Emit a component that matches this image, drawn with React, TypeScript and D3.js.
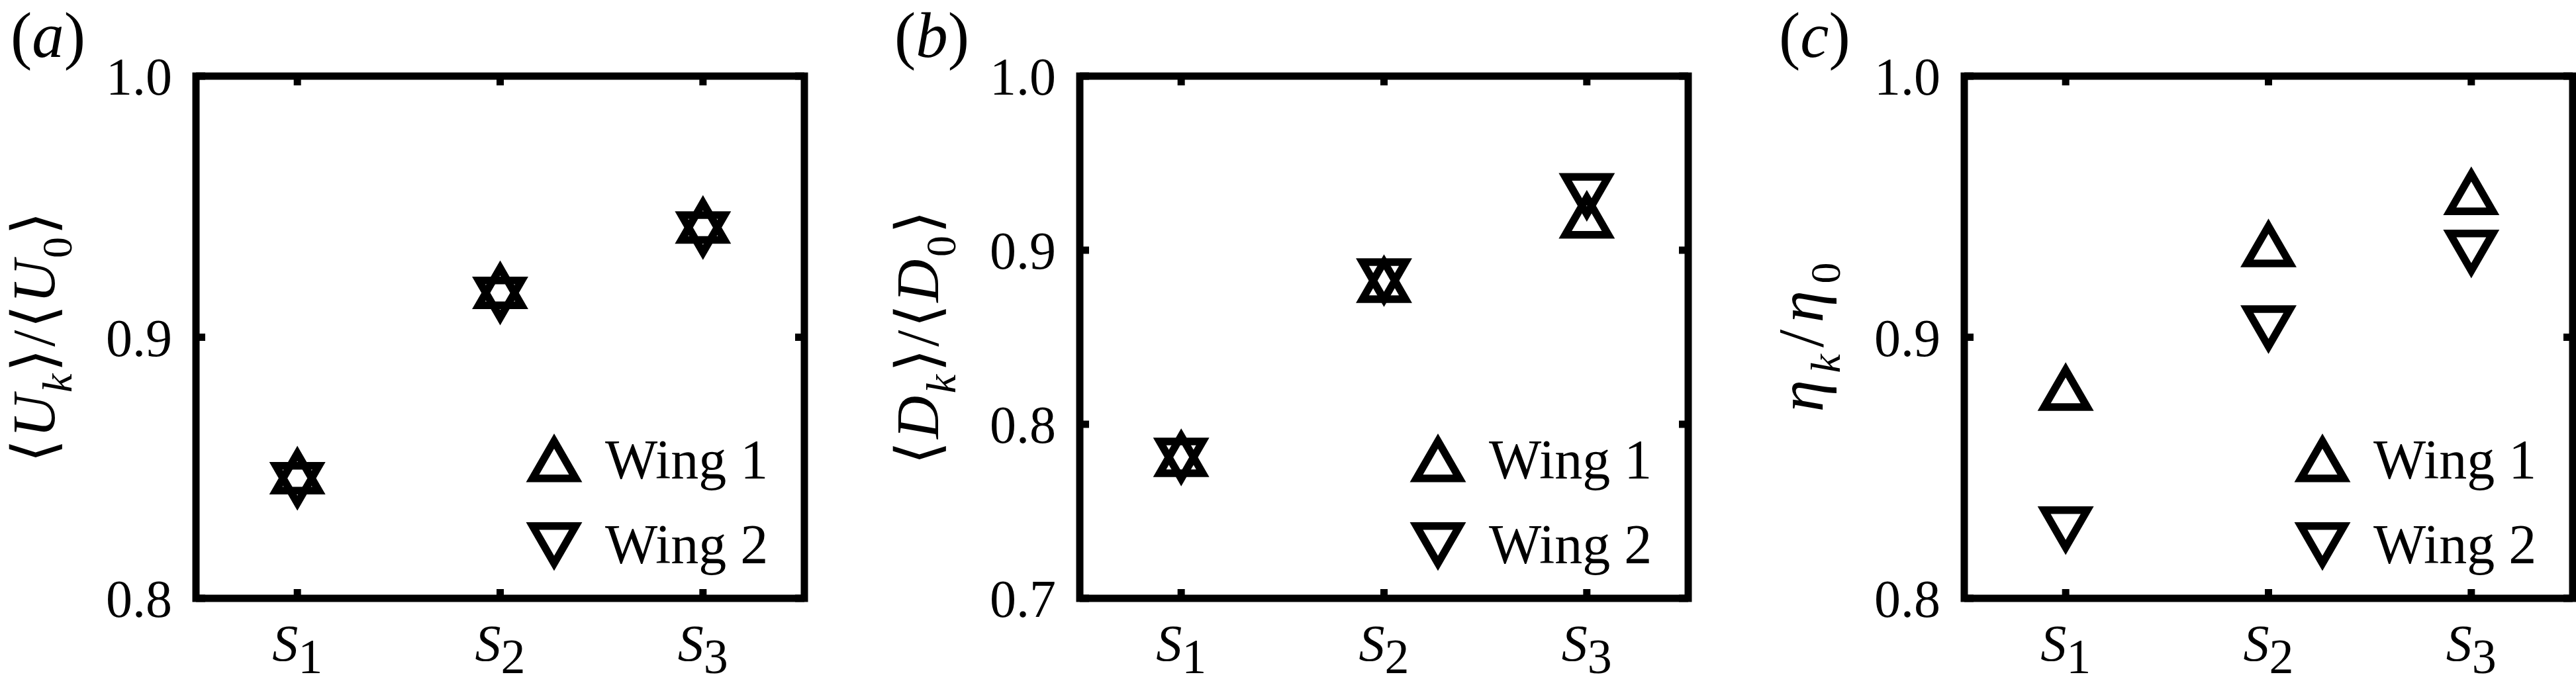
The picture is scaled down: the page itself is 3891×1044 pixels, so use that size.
import React, { useEffect, useRef } from 'react';
import * as d3 from 'd3';

// subscripts of the three cases S1..S3
const stages = ['1', '2', '3'];

// (a) <U_k>/<U_0>
const speedWing1 = [0.846, 0.917, 0.942];
const speedWing2 = [0.846, 0.917, 0.942];
const speedTicks = [0.8, 0.9, 1.0];

// (b) <D_k>/<D_0>
const dragWing1 = [0.779, 0.879, 0.916];
const dragWing2 = [0.783, 0.886, 0.935];
const dragTicks = [0.7, 0.8, 0.9, 1.0];

// (c) eta_k/eta_0
const effWing1 = [0.878, 0.933, 0.953];
const effWing2 = [0.829, 0.906, 0.935];
const effTicks = [0.8, 0.9, 1.0];

const legendLabels = ['Wing 1', 'Wing 2'];
const panelTags = ['a', 'b', 'c'];

type Seg = { t: string; it?: boolean; sub?: boolean };

// y-axis labels as text runs
const speedLabel: Seg[] = [
  { t: '\u27E8' }, { t: 'U', it: true }, { t: 'k', it: true, sub: true }, { t: '\u27E9/\u27E8' },
  { t: 'U', it: true }, { t: '0', sub: true }, { t: '\u27E9' }
];
const dragLabel: Seg[] = [
  { t: '\u27E8' }, { t: 'D', it: true }, { t: 'k', it: true, sub: true }, { t: '\u27E9/\u27E8' },
  { t: 'D', it: true }, { t: '0', sub: true }, { t: '\u27E9' }
];
const effLabel: Seg[] = [
  { t: '\u03B7', it: true }, { t: 'k', it: true, sub: true }, { t: '/' },
  { t: '\u03B7', it: true }, { t: '0', sub: true }
];

const panels = [
  { wing1: speedWing1, wing2: speedWing2, ticks: speedTicks, label: speedLabel },
  { wing1: dragWing1, wing2: dragWing2, ticks: dragTicks, label: dragLabel },
  { wing1: effWing1, wing2: effWing2, ticks: effTicks, label: effLabel }
];

// layout
const WIDTH = 3891;
const HEIGHT = 1044;
const PANEL_LEFT = [296, 1631, 2967];
const PLOT_W = 919;
const PLOT_TOP = 115;
const PLOT_BOTTOM = 904;
const FONT = 'Liberation Serif';
const TRI_SIDE = 65;
const TRI_AREA = (Math.sqrt(3) / 4) * TRI_SIDE * TRI_SIDE;
const MARKER_W = 11.5;
const AXIS_W = 11;
const TICK_LEN = 14;
const LABEL_SIZE = [90, 90, 98];
const LABEL_LEN = [379, 384, 226];

export default function App() {
  const svgRef = useRef<SVGSVGElement>(null);

  useEffect(() => {
    if (!svgRef.current) return;
    const svg = d3.select(svgRef.current);
    svg.selectAll('*').remove();

    const tri = d3.symbol().type(d3.symbolTriangle).size(TRI_AREA);
    const fmt = d3.format('.1f');

    const drawMarker = (g: any, cx: number, cy: number, up: boolean) => {
      g.append('path')
        .attr('d', tri())
        .attr('transform', `translate(${cx},${cy})${up ? '' : ' rotate(180)'}`)
        .attr('fill', 'none')
        .attr('stroke', '#000')
        .attr('stroke-width', MARKER_W)
        .attr('stroke-linejoin', 'miter');
    };

    // every text node gets the serif family directly
    const addText = (g: any, size: number) =>
      g.append('text').attr('font-family', FONT).attr('font-size', size).attr('fill', '#000');

    panels.forEach((p, i) => {
      const left = PANEL_LEFT[i];
      const right = left + PLOT_W;
      const x = d3.scaleLinear().domain([0.5, 3.5]).range([left, right]);
      const y = d3.scaleLinear()
        .domain([p.ticks[0], p.ticks[p.ticks.length - 1]])
        .range([PLOT_BOTTOM, PLOT_TOP]);

      const g = svg.append('g').attr('class', `panel-${panelTags[i]}`);

      // data markers
      stages.forEach((_s, j) => {
        drawMarker(g, x(j + 1), y(p.wing1[j]), true);
        drawMarker(g, x(j + 1), y(p.wing2[j]), false);
      });

      // mirrored ticks on all four sides
      stages.forEach((_s, j) => {
        const tx = x(j + 1);
        [[PLOT_BOTTOM, PLOT_BOTTOM - TICK_LEN], [PLOT_TOP, PLOT_TOP + TICK_LEN]].forEach(([a, b]) => {
          g.append('line').attr('x1', tx).attr('x2', tx).attr('y1', a).attr('y2', b)
            .attr('stroke', '#000').attr('stroke-width', AXIS_W);
        });
      });
      p.ticks.forEach(t => {
        const ty = y(t);
        [[left, left + TICK_LEN], [right, right - TICK_LEN]].forEach(([a, b]) => {
          g.append('line').attr('x1', a).attr('x2', b).attr('y1', ty).attr('y2', ty)
            .attr('stroke', '#000').attr('stroke-width', AXIS_W);
        });
      });

      // box
      g.append('rect')
        .attr('x', left).attr('y', PLOT_TOP)
        .attr('width', PLOT_W).attr('height', PLOT_BOTTOM - PLOT_TOP)
        .attr('fill', 'none').attr('stroke', '#000')
        .attr('stroke-width', AXIS_W).attr('stroke-linejoin', 'miter');

      // y tick labels
      p.ticks.forEach(t => {
        addText(g, 80)
          .attr('x', left - 36).attr('y', y(t)).attr('dy', '0.35em')
          .attr('text-anchor', 'end')
          .text(fmt(t));
      });

      // x tick labels S_1..S_3
      stages.forEach((s, j) => {
        const t = addText(g, 78)
          .attr('x', x(j + 1)).attr('y', 998)
          .attr('text-anchor', 'middle');
        t.append('tspan').attr('font-style', 'italic').text('S');
        t.append('tspan').attr('dy', 19).attr('font-size', 74).text(s);
      });

      // rotated y label, stretched to the reference length
      const lab = addText(g, LABEL_SIZE[i])
        .attr('transform', `translate(${left - 214},${(PLOT_TOP + PLOT_BOTTOM) / 2}) rotate(-90)`)
        .attr('text-anchor', 'middle')
        .attr('textLength', LABEL_LEN[i])
        .attr('lengthAdjust', 'spacing');
      let shifted = false;
      p.label.forEach(seg => {
        const ts = lab.append('tspan').text(seg.t);
        if (seg.it) ts.attr('font-style', 'italic');
        if (seg.sub) {
          ts.attr('dy', 26).attr('font-size', 64);
          shifted = true;
        } else if (shifted) {
          ts.attr('dy', -26);
          shifted = false;
        }
      });

      // panel tag (a), (b), (c)
      const tag = addText(g, 97).attr('x', left - 280).attr('y', 86);
      tag.append('tspan').text('(');
      tag.append('tspan').attr('font-style', 'italic').text(panelTags[i]);
      tag.append('tspan').text(')');

      // legend
      const lx = right - 378;
      const legY = [704, 813.5];
      const baseY = [723, 851];
      legendLabels.forEach((l, k) => {
        drawMarker(g, lx, legY[k], k === 0);
        addText(g, 84).attr('x', lx + 77).attr('y', baseY[k]).text(l);
      });
    });
  }, []);

  return (
    <svg
      ref={svgRef}
      width={WIDTH}
      height={HEIGHT}
      style={{ position: 'absolute', left: 0, top: 0, background: '#fff', fontFamily: 'Liberation Serif' }}
    />
  );
}
